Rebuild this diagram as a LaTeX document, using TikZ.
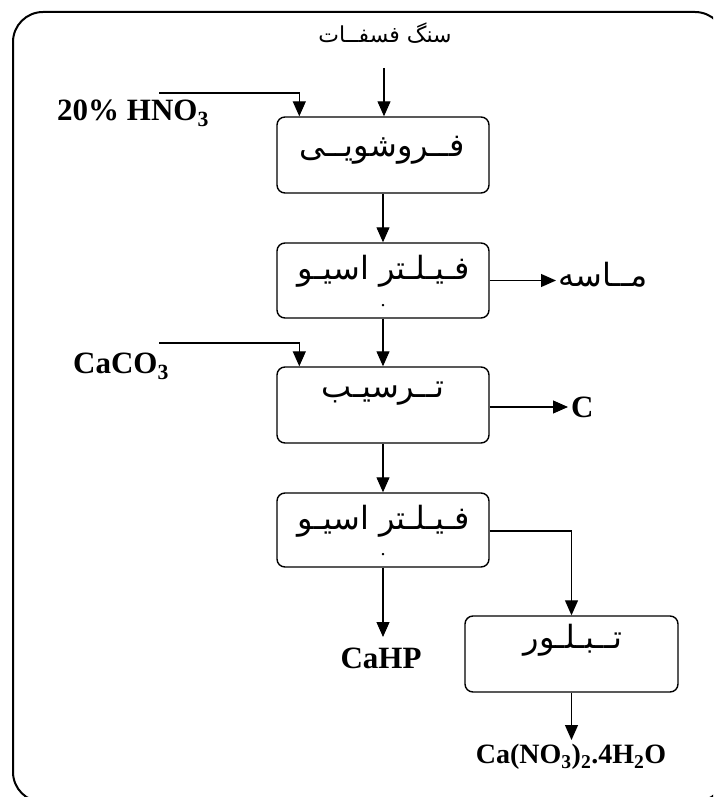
\documentclass[tikz,border=0pt]{standalone}
\usepackage{fontspec}
\setmainfont{Liberation Serif}
\newfontfamily\arabicfont[Script=Arabic]{DejaVu Sans}
\TeXXeTstate=1
\usetikzlibrary{arrows.meta,calc}
\tikzset{
  frame/.style={draw,line width=2pt,rounded corners=30pt},
  stepbox/.style={draw,line width=1.4pt,rounded corners=8pt,minimum width=212pt,minimum height=76pt,inner sep=0pt},
  conn/.style={line width=1.1pt,-{Triangle[length=15pt,width=13pt]}},
  lbl/.style={font=\fontsize{31}{34}\selectfont\bfseries,inner sep=3pt},
  prodlbl/.style={font=\fontsize{28}{30}\selectfont\bfseries,inner sep=3pt},
  artxt/.style={font=\arabicfont\fontsize{32}{36}\selectfont,inner sep=2pt},
  arsmall/.style={font=\arabicfont\fontsize{22}{24}\selectfont,inner sep=2pt},
  dotlbl/.style={font=\fontsize{20}{20}\selectfont,inner sep=0pt}
}
\begin{document}
\begin{tikzpicture}[x=1pt,y=-1pt]
\useasboundingbox (0,0) rectangle (713,797);
\begin{scope}
\clip (0,0) rectangle (713,797);
\draw[frame] (13,12) rectangle (725,802);
\end{scope}
% boxes
\node[stepbox] (b1) at (383,155) {};
\node[stepbox,minimum height=75pt] (b2) at (383,280.5) {};
\node[stepbox] (b3) at (383,405) {};
\node[stepbox,minimum height=74pt] (b4) at (383,530) {};
\node[stepbox,minimum width=213pt] (b5) at (571.5,654) {};
% box texts
\node[artxt] (t1) at (382,150) {\beginR فــروشویــی\endR};
\node[artxt] (t2) at (384,271) {\beginR فـیـلـتر اسیـو\endR};
\node[dotlbl] (d2) at (383,306) {.};
\node[artxt] (t3) at (383,394) {\beginR تــرسیـب\endR};
\node[artxt] (t4) at (384,521) {\beginR فـیـلـتر اسیـو\endR};
\node[dotlbl] (d4) at (383,555) {.};
\node[artxt] (t5) at (573,640) {\beginR تــبـلـور\endR};
% outside labels
\node[arsmall] (src) at (385,33) {\beginR سنگ فسفــات\endR};
\node[lbl,anchor=west] (hno) at (54,113) {20\% HNO\textsubscript{3}};
\node[lbl,anchor=west] (caco) at (70,366) {CaCO\textsubscript{3}};
\node[artxt,anchor=west] (sand) at (556,275) {\beginR مــاسه\endR};
\node[lbl,anchor=west] (c) at (568,407) {C};
\node[lbl] (cahp) at (381,658) {CaHP};
\node[prodlbl] (prod) at (571,757) {Ca(NO\textsubscript{3})\textsubscript{2}.4H\textsubscript{2}O};
% connectors
\coordinate (s0) at (384,68);
\draw[conn] (s0) -- (b1.north -| s0);
\coordinate (h0) at (159,93);
\draw[conn] (h0) -| ($(b1.north west)+(23,0)$);
\draw[conn] (b1) -- (b2);
\draw[conn] (b2.east) -- (sand.west |- b2.east);
\coordinate (k0) at (159,343);
\draw[conn] (k0) -| ($(b3.north west)+(23,0)$);
\draw[conn] (b2) -- (b3);
\draw[conn] (b3.east |- 0,407) -- (c.west |- 0,407);
\draw[conn] (b3) -- (b4);
\draw[conn] (b4.south) -- (b4.south |- 0,637);
\draw[conn] (b4.east |- 0,531) -| (b5.north);
\draw[conn] (b5) -- (b5.south |- 0,740);
\end{tikzpicture}
\end{document}
